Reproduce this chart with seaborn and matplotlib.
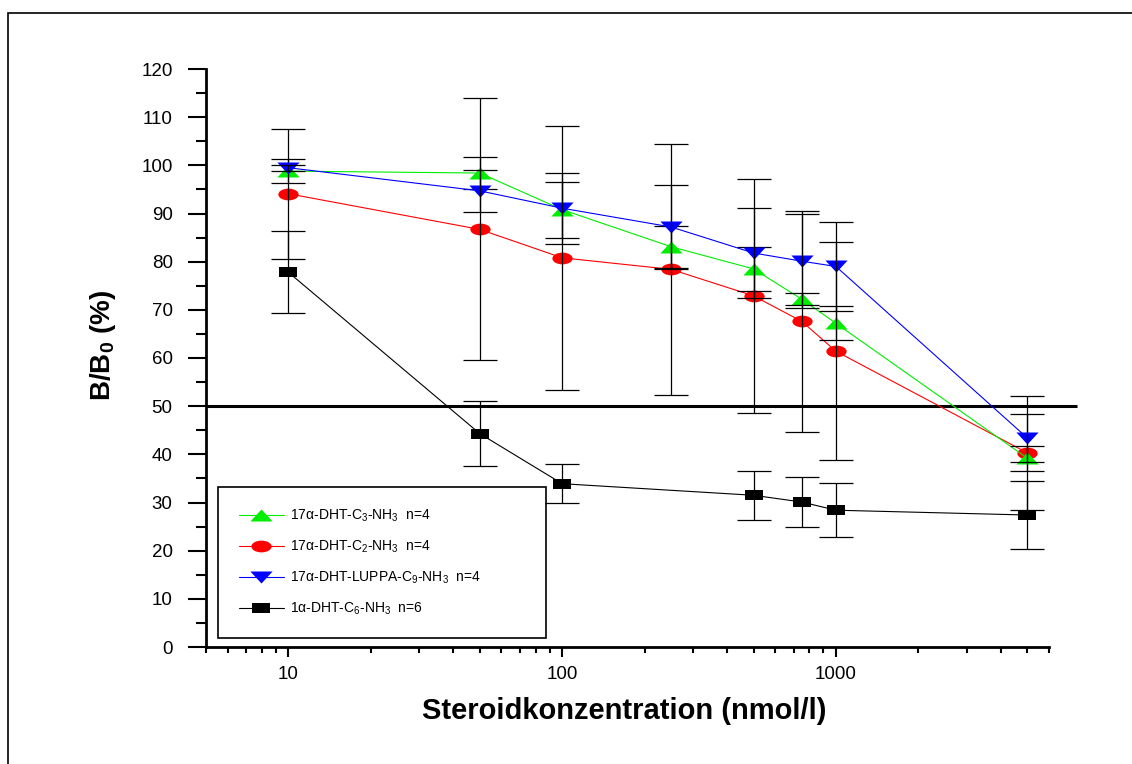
import numpy as np
import matplotlib
matplotlib.use("Agg")
import matplotlib.pyplot as plt
import seaborn as sns
from matplotlib.path import Path
from matplotlib.transforms import Affine2D
from matplotlib.patches import Rectangle
from matplotlib.ticker import FixedLocator, LogLocator, NullFormatter

# ---------------- data ----------------
conc = [10, 50, 100, 250, 500, 750, 1000, 5000]
conc_c6 = [10, 50, 100, 500, 750, 1000, 5000]

c3_mean = [98.8, 98.4, 90.8, 83.1, 78.5, 72.2, 67.2, 39.2]
c3_err = [2.5, 3.3, 5.8, 4.4, 4.5, 1.3, 3.5, 2.6]

c2_mean = [94.1, 86.7, 80.8, 78.4, 72.9, 67.6, 61.4, 40.3]
c2_err = [13.5, 27.2, 27.4, 26.1, 24.3, 22.9, 22.6, 11.9]

luppa_mean = [99.5, 94.7, 91.1, 87.2, 81.8, 80.1, 79.0, 43.4]
luppa_err = [0.6, 4.3, 7.4, 8.7, 9.3, 9.8, 9.3, 5.0]

c6_mean = [77.8, 44.3, 33.9, 31.5, 30.1, 28.4, 27.4]
c6_err = [8.5, 6.7, 4.0, 5.1, 5.1, 5.6, 7.0]

labels = [
    "17α-DHT-C$_3$-NH$_3$  n=4",
    "17α-DHT-C$_2$-NH$_3$  n=4",
    "17α-DHT-LUPPA-C$_9$-NH$_3$  n=4",
    "1α-DHT-C$_6$-NH$_3$  n=6",
]
x_ticks = [10, 100, 1000]
x_ticklabels = ["10", "100", "1000"]
y_ticks = list(range(0, 121, 10))
threshold = 50

# ---------------- style ----------------
sns.set_style("ticks")
plt.rcParams["font.family"] = ["Liberation Sans", "DejaVu Sans"]
plt.rcParams["mathtext.fontset"] = "custom"
plt.rcParams["mathtext.rm"] = "Liberation Sans"
plt.rcParams["mathtext.it"] = "Liberation Sans:italic"
plt.rcParams["mathtext.bf"] = "Liberation Sans:bold"
plt.rcParams["text.color"] = "black"
plt.rcParams["axes.labelcolor"] = "black"
plt.rcParams["xtick.color"] = "black"
plt.rcParams["ytick.color"] = "black"
plt.rcParams["xtick.labelcolor"] = "black"
plt.rcParams["ytick.labelcolor"] = "black"

# flattened marker shapes (as in the reference)
tri_up = np.array([(-1, -0.54), (1, -0.54), (0, 0.54), (-1, -0.54)])
tri_dn = np.array([(-1, 0.54), (1, 0.54), (0, -0.54), (-1, 0.54)])
ellipse = Path.unit_circle().transformed(Affine2D().scale(1, 0.58))
rect = np.array([(-1, -0.6), (1, -0.6), (1, 0.6), (-1, 0.6), (-1, -0.6)])

fig = plt.figure(figsize=(11.32, 7.64), dpi=100)
ax = fig.add_axes([206 / 1132, 1 - 647 / 764, (1049 - 206) / 1132, (647 - 69) / 764])
ax.set_xscale("log")

series = [
    # label, x, y, err, colour, marker, size, zorder
    (labels[1], conc, c2_mean, c2_err, "#ff0000", ellipse, 14.6, 3),
    (labels[0], conc, c3_mean, c3_err, "#00ee00", tri_up, 16.0, 4),
    (labels[2], conc, luppa_mean, luppa_err, "#0000ff", tri_dn, 16.0, 5),
    (labels[3], conc_c6, c6_mean, c6_err, "#000000", rect, 13.0, 6),
]

for lab, xs, ys, es, col, mk, ms, z in series:
    sns.lineplot(x=xs, y=ys, ax=ax, color=col, marker=mk, markersize=ms,
                 markeredgewidth=0, linewidth=0.8, label=lab, zorder=z,
                 legend=False)
    ax.errorbar(xs, ys, yerr=es, fmt="none", ecolor="black", elinewidth=0.9,
                capsize=12, capthick=0.9, zorder=z + 0.5)

ax.hlines(threshold, 5, 7600, colors="black", linewidth=2.2, clip_on=False, zorder=2)

ax.set_xlim(5, 6000)
ax.set_ylim(0, 120)
ax.xaxis.set_major_locator(FixedLocator(x_ticks))
ax.set_xticklabels(x_ticklabels)
ax.xaxis.set_minor_locator(LogLocator(base=10, subs=range(2, 10)))
ax.xaxis.set_minor_formatter(NullFormatter())
ax.set_yticks(y_ticks)
ax.set_yticks(list(range(5, 120, 10)), minor=True)

for s in ["top", "right"]:
    ax.spines[s].set_visible(False)
for s in ["left", "bottom"]:
    ax.spines[s].set_linewidth(2.0)
    ax.spines[s].set_color("black")

ax.tick_params(axis="y", which="major", length=13, width=1.5, direction="out",
               labelsize=13.5, pad=11, color="black", labelcolor="black")
ax.tick_params(axis="y", which="minor", length=7, width=1.5, direction="out", color="black")
ax.tick_params(axis="x", which="major", length=7.5, width=1.5, direction="out",
               labelsize=13.5, pad=6, color="black", labelcolor="black")
ax.tick_params(axis="x", which="minor", length=4.5, width=1.5, direction="out", color="black")

ax.set_xlabel("Steroidkonzentration (nmol/l)", fontsize=21, fontweight="bold", color="black")
ax.set_ylabel(r"B/B$_\mathbf{0}$ (%)", fontsize=20, fontweight="bold", color="black")
ax.xaxis.set_label_coords((624 - 206) / 843, (647 - 697) / 578)
ax.yaxis.set_label_coords((118 - 206) / 843, (647 - 345) / 578)

h, l = ax.get_legend_handles_labels()
order = [l.index(lab) for lab in labels]
leg = ax.legend([h[i] for i in order], [l[i] for i in order],
                loc="upper left",
                bbox_to_anchor=(218 / 1132, 1 - 487 / 764, (546 - 218) / 1132, 0),
                bbox_transform=fig.transFigure, mode="expand", borderaxespad=0,
                fontsize=10, labelspacing=1.05, borderpad=1.5, handlelength=3.25,
                handletextpad=0.4, fancybox=False, framealpha=1, edgecolor="black",
                labelcolor="black")
leg.get_frame().set_linewidth(1.2)

fig.add_artist(Rectangle((8 / 1132, -0.1), 1.2, (1 - 13 / 764) + 0.1,
                         transform=fig.transFigure, fill=False,
                         edgecolor="black", linewidth=1.2, clip_on=False))

fig.savefig("out.png", dpi=100)
